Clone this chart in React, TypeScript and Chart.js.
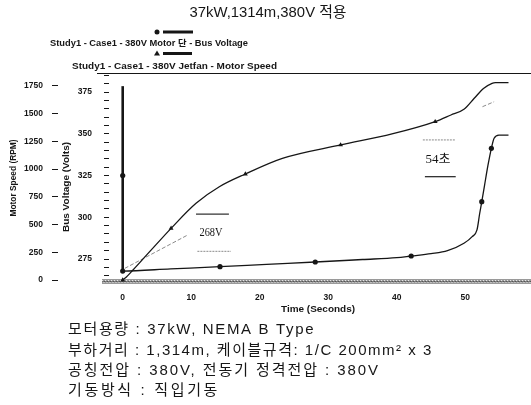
import { useEffect, useRef } from 'react';
import { Chart, registerables } from 'chart.js';

Chart.register(...registerables);

// ---------- text ----------
const TITLE = '37kW,1314m,380V 적용';
const LEGEND_LABELS = [
  'Study1 - Case1 - 380V Motor 단 - Bus Voltage',
  'Study1 - Case1 - 380V Jetfan - Motor Speed',
];
const X_TITLE = 'Time (Seconds)';
const RPM_TITLE = 'Motor Speed (RPM)';
const VOLT_TITLE = 'Bus Voltage (Volts)';
const NOTES = [
  '모터용량 : 37kW, NEMA B Type',
  '부하거리 : 1,314m, 케이블규격: 1/C 200mm² x 3',
  '공칭전압 : 380V, 전동기 정격전압 : 380V',
  '기동방식 : 직입기동',
];

// ---------- ticks ----------
const X_TICKS = [0, 10, 20, 30, 40, 50];
const RPM_TICKS = [0, 250, 500, 750, 1000, 1250, 1500, 1750];
const VOLT_LABELS = [275, 300, 325, 350, 375];
const VOLT_TICKS = [265, 270, 275, 280, 285, 290, 295, 300, 305, 310, 315, 320, 325, 330, 335, 340, 345, 350, 355, 360, 365, 370, 375, 380, 385];

// ---------- series: bus voltage (V) ----------
const BUS_TIME = [0, 0, 0, 7, 14.2, 21, 28.1, 35, 40, 42.1, 45, 47.4, 49.8, 51, 51.7, 52.1, 52.4, 52.8, 53.3, 53.8, 54.2, 54.9, 56.3];
const BUS_VOLT = [378.5, 325, 267.8, 269.1, 270.4, 271.8, 273.2, 274.7, 275.8, 276.8, 278.2, 280, 284.4, 288.4, 292.4, 302.4, 309.3, 319, 331, 341.3, 347.3, 349.2, 349.2];
const BUS_MARKS = [1, 2, 4, 6, 9, 16, 19];

// ---------- series: motor speed (RPM) ----------
const SPEED_TIME = [0, 0.5, 1.5, 4, 7.06, 10.7, 14.1, 17.9, 23.3, 31.8, 39.3, 45.6, 47.9, 49.8, 51.3, 52.7, 53.9, 54.4, 56.3];
const SPEED_RPM = [0, 25, 90, 260, 466, 692, 841, 956, 1097, 1218, 1317, 1428, 1488, 1540, 1639, 1729, 1774, 1780, 1780];
const SPEED_MARKS = [0, 4, 7, 9, 11];

// ---------- hand-drawn annotations ----------
const LEADER_T = [0.3, 9.5];
const LEADER_V = [269.4, 289.4];
const TAIL_T = [52.5, 54.2];
const TAIL_RPM = [1563, 1608];
const BOX_T = [[10.7, 15.5], [10.9, 15.8], [43.8, 48.6], [44.1, 48.6]];
const BOX_V = [301.9, 279.6, 346.3, 324.3];
const NOTE_LABELS = ['268V', '54초'];
const NOTE_T = [11.2, 44.2];
const NOTE_V = [290.6, 334.3];

const INK = '#161616';
const GRAY = '#8a8a8a';
const SANS = '"Liberation Sans", Arial, "Noto Sans CJK KR", sans-serif';
const SERIF = '"Liberation Serif", "Times New Roman", "Noto Sans CJK KR", serif';

function fitText(ctx: CanvasRenderingContext2D, text: string, x: number, y: number, width: number, font: string, center = false) {
  ctx.save();
  ctx.font = font;
  ctx.textBaseline = 'middle';
  ctx.textAlign = 'left';
  const w = ctx.measureText(text).width;
  ctx.translate(x, y);
  ctx.scale(width / w, 1);
  ctx.fillText(text, center ? -w / 2 : 0, 0);
  ctx.restore();
}

function spacedText(ctx: CanvasRenderingContext2D, text: string, x: number, y: number, width: number, font: string) {
  ctx.save();
  ctx.font = font;
  ctx.textBaseline = 'middle';
  ctx.textAlign = 'left';
  const anyCtx = ctx as any;
  if ('letterSpacing' in anyCtx) {
    anyCtx.letterSpacing = '0px';
    const w = ctx.measureText(text).width;
    anyCtx.letterSpacing = Math.max(0, (width - w) / text.length).toFixed(2) + 'px';
    ctx.fillText(text, x, y);
    ctx.restore();
  } else {
    ctx.restore();
    fitText(ctx, text, x, y, width, font);
  }
}

const pts = (xs: number[], ys: number[]) => xs.map((x, i) => ({ x, y: ys[i] }));

export default function App() {
  const ref = useRef<HTMLCanvasElement>(null);

  useEffect(() => {
    const canvas = ref.current!;
    const overlay = {
      id: 'overlay',
      beforeDatasetsDraw(chart: any) {
        const ctx: CanvasRenderingContext2D = chart.ctx;
        const { bottom } = chart.chartArea;
        ctx.save();
        // hatched time axis band
        ctx.fillStyle = '#9a9a9a';
        ctx.fillRect(102, bottom - 1, 531 - 102, 5);
        ctx.strokeStyle = 'rgba(255,255,255,0.75)';
        ctx.lineWidth = 1;
        ctx.setLineDash([1, 2]);
        ctx.beginPath();
        ctx.moveTo(102, bottom + 0.5);
        ctx.lineTo(531, bottom + 0.5);
        ctx.stroke();
        ctx.lineDashOffset = 1.5;
        ctx.beginPath();
        ctx.moveTo(102, bottom + 2.5);
        ctx.lineTo(531, bottom + 2.5);
        ctx.stroke();
        ctx.strokeStyle = 'rgba(40,40,40,0.6)';
        ctx.setLineDash([2, 1]);
        ctx.beginPath();
        ctx.moveTo(102, bottom + 1.5);
        ctx.lineTo(531, bottom + 1.5);
        ctx.stroke();
        ctx.restore();
      },
      afterDraw(chart: any) {
        const ctx: CanvasRenderingContext2D = chart.ctx;
        const xs = chart.scales.x;
        const vs = chart.scales.volt;
        ctx.save();
        ctx.fillStyle = INK;
        ctx.strokeStyle = INK;

        // title
        fitText(ctx, TITLE, 268, 13, 157, `15px ${SANS}`, true);

        // legend
        ctx.beginPath();
        ctx.arc(157, 32, 2.5, 0, Math.PI * 2);
        ctx.fill();
        ctx.lineWidth = 3;
        ctx.beginPath();
        ctx.moveTo(163, 32);
        ctx.lineTo(193, 32);
        ctx.stroke();
        fitText(ctx, LEGEND_LABELS[0], 50, 43.5, 198, `bold 8.5px ${SANS}`);
        ctx.beginPath();
        ctx.moveTo(157, 50.5);
        ctx.lineTo(160, 55.5);
        ctx.lineTo(154, 55.5);
        ctx.closePath();
        ctx.fill();
        ctx.beginPath();
        ctx.moveTo(163, 53.5);
        ctx.lineTo(192, 53.5);
        ctx.stroke();
        fitText(ctx, LEGEND_LABELS[1], 72, 66.5, 205, `bold 8.5px ${SANS}`);

        // plot top border
        ctx.lineWidth = 1;
        ctx.beginPath();
        ctx.moveTo(97, 73.5);
        ctx.lineTo(531, 73.5);
        ctx.stroke();

        // axis titles
        ctx.save();
        ctx.translate(14, 178);
        ctx.rotate(-Math.PI / 2);
        fitText(ctx, RPM_TITLE, 0, 0, 77, `bold 8.5px ${SANS}`, true);
        ctx.restore();
        ctx.save();
        ctx.translate(67, 187);
        ctx.rotate(-Math.PI / 2);
        fitText(ctx, VOLT_TITLE, 0, 0, 90, `bold 8.5px ${SANS}`, true);
        ctx.restore();
        fitText(ctx, X_TITLE, 318, 310, 74, `bold 8.5px ${SANS}`, true);

        // notes inside plot
        NOTE_LABELS.forEach((t, i) => {
          fitText(ctx, t, xs.getPixelForValue(NOTE_T[i]), vs.getPixelForValue(NOTE_V[i]), i === 0 ? 23 : 25, `12px ${SERIF}`);
        });

        // bottom text block
        const ys = [330, 351, 371, 391];
        const ws = [247, 365, 312, 152];
        NOTES.forEach((t, i) => spacedText(ctx, t, 68, ys[i], ws[i], `15px ${SANS}`));
        ctx.restore();
      },
    };

    const lineOnly = (data: any[], axis: string, color: string, width: number, dash: number[]) => ({
      data,
      yAxisID: axis,
      borderColor: color,
      borderWidth: width,
      borderDash: dash,
      pointRadius: 0,
      tension: 0,
      fill: false,
    });

    const tickFont = { family: SANS, size: 8.5, weight: 'bold' };

    const chart = new Chart(canvas, {
      type: 'line',
      data: {
        datasets: [
          {
            data: pts(BUS_TIME, BUS_VOLT),
            yAxisID: 'volt',
            borderColor: INK,
            borderWidth: 1.3,
            cubicInterpolationMode: 'monotone',
            tension: 0.4,
            pointStyle: 'circle',
            pointRadius: (c: any) => (BUS_MARKS.includes(c.dataIndex) ? 2.6 : 0),
            pointBackgroundColor: INK,
            pointBorderColor: INK,
            pointBorderWidth: 0,
            segment: { borderWidth: (c: any) => (c.p0.parsed.x === c.p1.parsed.x ? 2.6 : 1.3) },
            clip: 8,
            fill: false,
          } as any,
          {
            data: pts(SPEED_TIME, SPEED_RPM),
            yAxisID: 'rpm',
            borderColor: INK,
            borderWidth: 1.3,
            cubicInterpolationMode: 'monotone',
            tension: 0.4,
            pointStyle: 'triangle',
            pointRadius: (c: any) => (SPEED_MARKS.includes(c.dataIndex) ? 2.8 : 0),
            pointBackgroundColor: INK,
            pointBorderColor: INK,
            pointBorderWidth: 0,
            clip: 8,
            fill: false,
          } as any,
          lineOnly(pts(LEADER_T, LEADER_V), 'volt', GRAY, 1, [4, 2]),
          lineOnly(pts(TAIL_T, TAIL_RPM), 'rpm', GRAY, 1, [4, 2]),
          lineOnly(pts(BOX_T[0], [BOX_V[0], BOX_V[0]]), 'volt', '#333', 1.3, []),
          lineOnly(pts(BOX_T[1], [BOX_V[1], BOX_V[1]]), 'volt', GRAY, 1, [2, 1]),
          lineOnly(pts(BOX_T[2], [BOX_V[2], BOX_V[2]]), 'volt', GRAY, 1, [2, 1]),
          lineOnly(pts(BOX_T[3], [BOX_V[3], BOX_V[3]]), 'volt', '#333', 1.3, []),
        ],
      },
      options: {
        responsive: false,
        animation: false,
        devicePixelRatio: 1,
        events: [],
        layout: { padding: { left: 0, right: 2, top: 75, bottom: 85 } },
        plugins: {
          legend: { display: false },
          title: { display: false },
          tooltip: { enabled: false },
        },
        scales: {
          x: {
            type: 'linear',
            position: 'bottom',
            min: -2,
            max: 59,
            grid: { display: false, drawTicks: false },
            border: { display: false },
            afterBuildTicks: (s: any) => {
              s.ticks = X_TICKS.map((v) => ({ value: v }));
            },
            afterFit: (s: any) => {
              s.height = 40;
            },
            ticks: {
              autoSkip: false,
              maxRotation: 0,
              padding: 13,
              color: INK,
              font: tickFont,
              callback: (v: any) => String(v),
            },
          },
          rpm: {
            type: 'linear',
            position: 'left',
            weight: 2,
            min: 0,
            max: 1849,
            afterBuildTicks: (s: any) => {
              s.ticks = RPM_TICKS.map((v) => ({ value: v }));
            },
            afterFit: (s: any) => {
              s.width = 58;
            },
            grid: { drawOnChartArea: false, drawTicks: true, tickLength: 6, color: INK, lineWidth: 1 },
            border: { display: false },
            ticks: {
              autoSkip: false,
              padding: 9,
              color: INK,
              font: tickFont,
              callback: (v: any) => String(v),
            },
          },
          volt: {
            type: 'linear',
            position: 'left',
            weight: 1,
            min: 262.43,
            max: 385.18,
            afterBuildTicks: (s: any) => {
              s.ticks = VOLT_TICKS.map((v) => ({ value: v }));
            },
            afterFit: (s: any) => {
              s.width = 51;
            },
            grid: { drawOnChartArea: false, drawTicks: true, tickLength: 5, color: INK, lineWidth: 1 },
            border: { display: false },
            ticks: {
              autoSkip: false,
              padding: 12,
              color: INK,
              font: tickFont,
              callback: (v: any) => (VOLT_LABELS.includes(v) ? String(v) : ''),
            },
          },
        },
      } as any,
      plugins: [overlay],
    });
    return () => chart.destroy();
  }, []);

  return (
    <div style={{ position: 'fixed', left: 0, top: 0, width: 531, height: 405, background: '#fff' }}>
      <canvas ref={ref} width={531} height={405} style={{ display: 'block', width: 531, height: 405 }} />
    </div>
  );
}
